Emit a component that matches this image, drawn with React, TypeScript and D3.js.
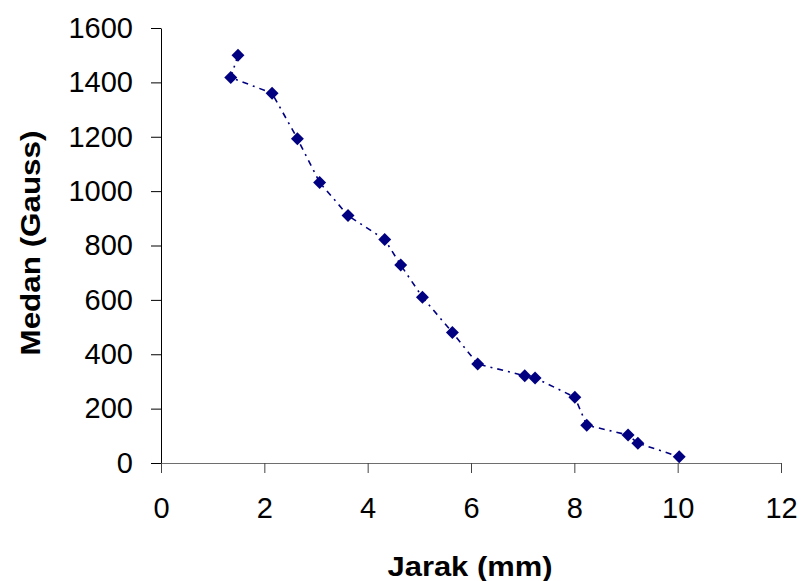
import { useEffect, useRef } from 'react'
import * as d3 from 'd3'

// Jarak (mm) vs Medan (Gauss), in measurement order
const jarak = [1.49, 1.35, 2.15, 2.64, 3.07, 3.62, 4.33, 4.64, 5.06, 5.64, 6.13, 7.04, 7.24, 8.01, 8.24, 9.04, 9.23, 10.03]
const medan = [1500, 1418, 1360, 1193, 1032, 910, 822, 728, 610, 480, 364, 321, 313, 242, 139, 103, 73, 23]

const xTicks = [0, 2, 4, 6, 8, 10, 12]
const yTicks = [0, 200, 400, 600, 800, 1000, 1200, 1400, 1600]

const W = 801
const H = 581
const FONT = '"Liberation Sans", Arial, sans-serif'
const NAVY = '#000080'

export default function App() {
  const svgRef = useRef<SVGSVGElement>(null)

  useEffect(() => {
    if (!svgRef.current) return
    const margin = { top: 28, right: 20, bottom: 118, left: 161 }
    const w = W - margin.left - margin.right
    const h = H - margin.top - margin.bottom

    const svg = d3.select(svgRef.current)
    svg.selectAll('*').remove()
    svg.attr('width', W).attr('height', H)

    svg.append('rect').attr('width', W).attr('height', H).attr('fill', '#fff')

    const g = svg.append('g').attr('transform', `translate(${margin.left},${margin.top})`)

    const x = d3.scaleLinear().domain([0, 12]).range([0, w])
    const y = d3.scaleLinear().domain([0, 1600]).range([h, 0])

    // Y axis
    g.append('g')
      .call(d3.axisLeft(y).tickValues(yTicks).tickFormat(d3.format('d')).tickSize(10).tickSizeOuter(0).tickPadding(18))
      .call(ax => ax.select('.domain').attr('stroke', '#000'))
      .call(ax => ax.selectAll('.tick line').attr('stroke', '#000'))
      .call(ax => ax.selectAll('text')
        .attr('fill', '#000').attr('font-size', '29px').attr('font-family', FONT))

    // X axis
    g.append('g').attr('transform', `translate(0,${h})`)
      .call(d3.axisBottom(x).tickValues(xTicks).tickFormat(d3.format('d')).tickSize(10).tickSizeOuter(0).tickPadding(24))
      .call(ax => ax.select('.domain').attr('stroke', '#6e6e6e'))
      .call(ax => ax.selectAll('.tick line').attr('stroke', '#444'))
      .call(ax => ax.selectAll('text')
        .attr('fill', '#000').attr('font-size', '29px').attr('font-family', FONT))

    // Line
    const pts = jarak.map((d, i) => [d, medan[i]] as [number, number])
    const line = d3.line<[number, number]>().x(d => x(d[0])).y(d => y(d[1]))
    g.append('path')
      .datum(pts)
      .attr('d', line)
      .attr('fill', 'none')
      .attr('stroke', NAVY)
      .attr('stroke-width', 1.6)
      .attr('stroke-dasharray', '6,5,2,5')

    // Diamond markers
    const sq = d3.symbol().type(d3.symbolSquare).size(84)
    g.selectAll('.pt')
      .data(pts).enter().append('path')
      .attr('d', sq)
      .attr('transform', d => `translate(${x(d[0])},${y(d[1])}) rotate(45)`)
      .attr('fill', NAVY)

    // Axis titles
    svg.append('text')
      .attr('x', 470).attr('y', 576)
      .attr('text-anchor', 'middle')
      .attr('font-family', FONT).attr('font-weight', 'bold').attr('font-size', '27px')
      .attr('textLength', 165).attr('lengthAdjust', 'spacingAndGlyphs')
      .text('Jarak (mm)')

    svg.append('text')
      .attr('transform', `translate(40,243) rotate(-90)`)
      .attr('text-anchor', 'middle')
      .attr('font-family', FONT).attr('font-weight', 'bold').attr('font-size', '27px')
      .attr('textLength', 225).attr('lengthAdjust', 'spacingAndGlyphs')
      .text('Medan (Gauss)')
  }, [])

  return (
    <div style={{ position: 'absolute', left: 0, top: 0 }}>
      <svg ref={svgRef} style={{ display: 'block' }} />
    </div>
  )
}
